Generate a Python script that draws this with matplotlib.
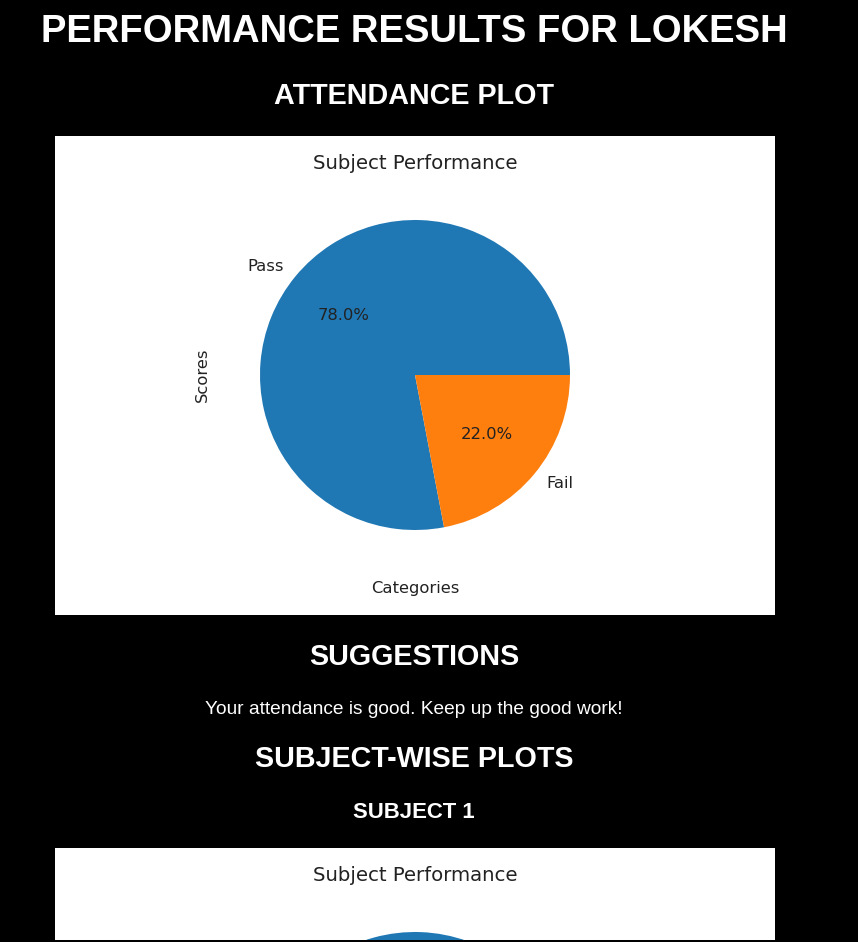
import numpy as np
import matplotlib.pyplot as plt
from matplotlib.patches import Rectangle

# data
categories = ["Pass", "Fail"]
attendance_scores = [78, 22]
subject1_scores = [78, 22]

page_title = "PERFORMANCE RESULTS FOR LOKESH"
suggestion = "Your attendance is good. Keep up the good work!"

W, H = 858, 942
fig = plt.figure(figsize=(W / 100, H / 100), dpi=100, facecolor="black")
plt.rcParams["text.color"] = "#222222"
plt.rcParams["axes.labelcolor"] = "#222222"


def fx(px):
    return px / W


def fy(py):
    #pixels from top -> figure fraction
    return 1 - py / H


def heading(text, y, size, weight="bold"):
    fig.text(fx(414), fy(y), text, color="white", fontsize=size, weight=weight,
             family="Liberation Sans", ha="center", va="center")


def panel(top, bottom):
    fig.add_artist(Rectangle((fx(55), fy(bottom)), fx(775) - fx(55), fy(top) - fy(bottom),
                             transform=fig.transFigure, facecolor="white", edgecolor="none", zorder=-1))


def pie_plot(scores, cx, cy, r=155, full=True):
    side = 2 * 1.25 * r
    ax = fig.add_axes([fx(cx - side / 2), fy(cy + side / 2), side / W, side / H])
    if full:
        ax.pie(scores, labels=categories, autopct="%1.1f%%",
               colors=["#1f77b4", "#ff7f0e"], textprops={"fontsize": 11.8})
        ax.set_xlabel("Categories", fontsize=11.8, labelpad=9)
        ax.set_ylabel("Scores", fontsize=11.8, labelpad=8)
    else:
        #only the top of this one is on the page
        ax.pie(scores, colors=["#1f77b4", "#ff7f0e"])
    ax.set_title("Subject Performance", fontsize=14.2, pad=9)
    return ax


heading(page_title, 32, 27.5)
heading("ATTENDANCE PLOT", 96, 20.7)

panel(136, 615)
pie_plot(attendance_scores, 415, 375)

heading("SUGGESTIONS", 657, 20.7)
heading(suggestion, 709, 13.8, weight="normal")
heading("SUBJECT-WISE PLOTS", 759, 20.7)
heading("SUBJECT 1", 813, 15.9)

panel(848, 940)
pie_plot(subject1_scores, 415, 1087, full=False)

#black strip below the cut-off second panel
fig.add_artist(Rectangle((0, 0), 1, fy(940), transform=fig.transFigure,
                         facecolor="black", edgecolor="none", zorder=10))

fig.savefig("out.png", dpi=100, facecolor="black")
